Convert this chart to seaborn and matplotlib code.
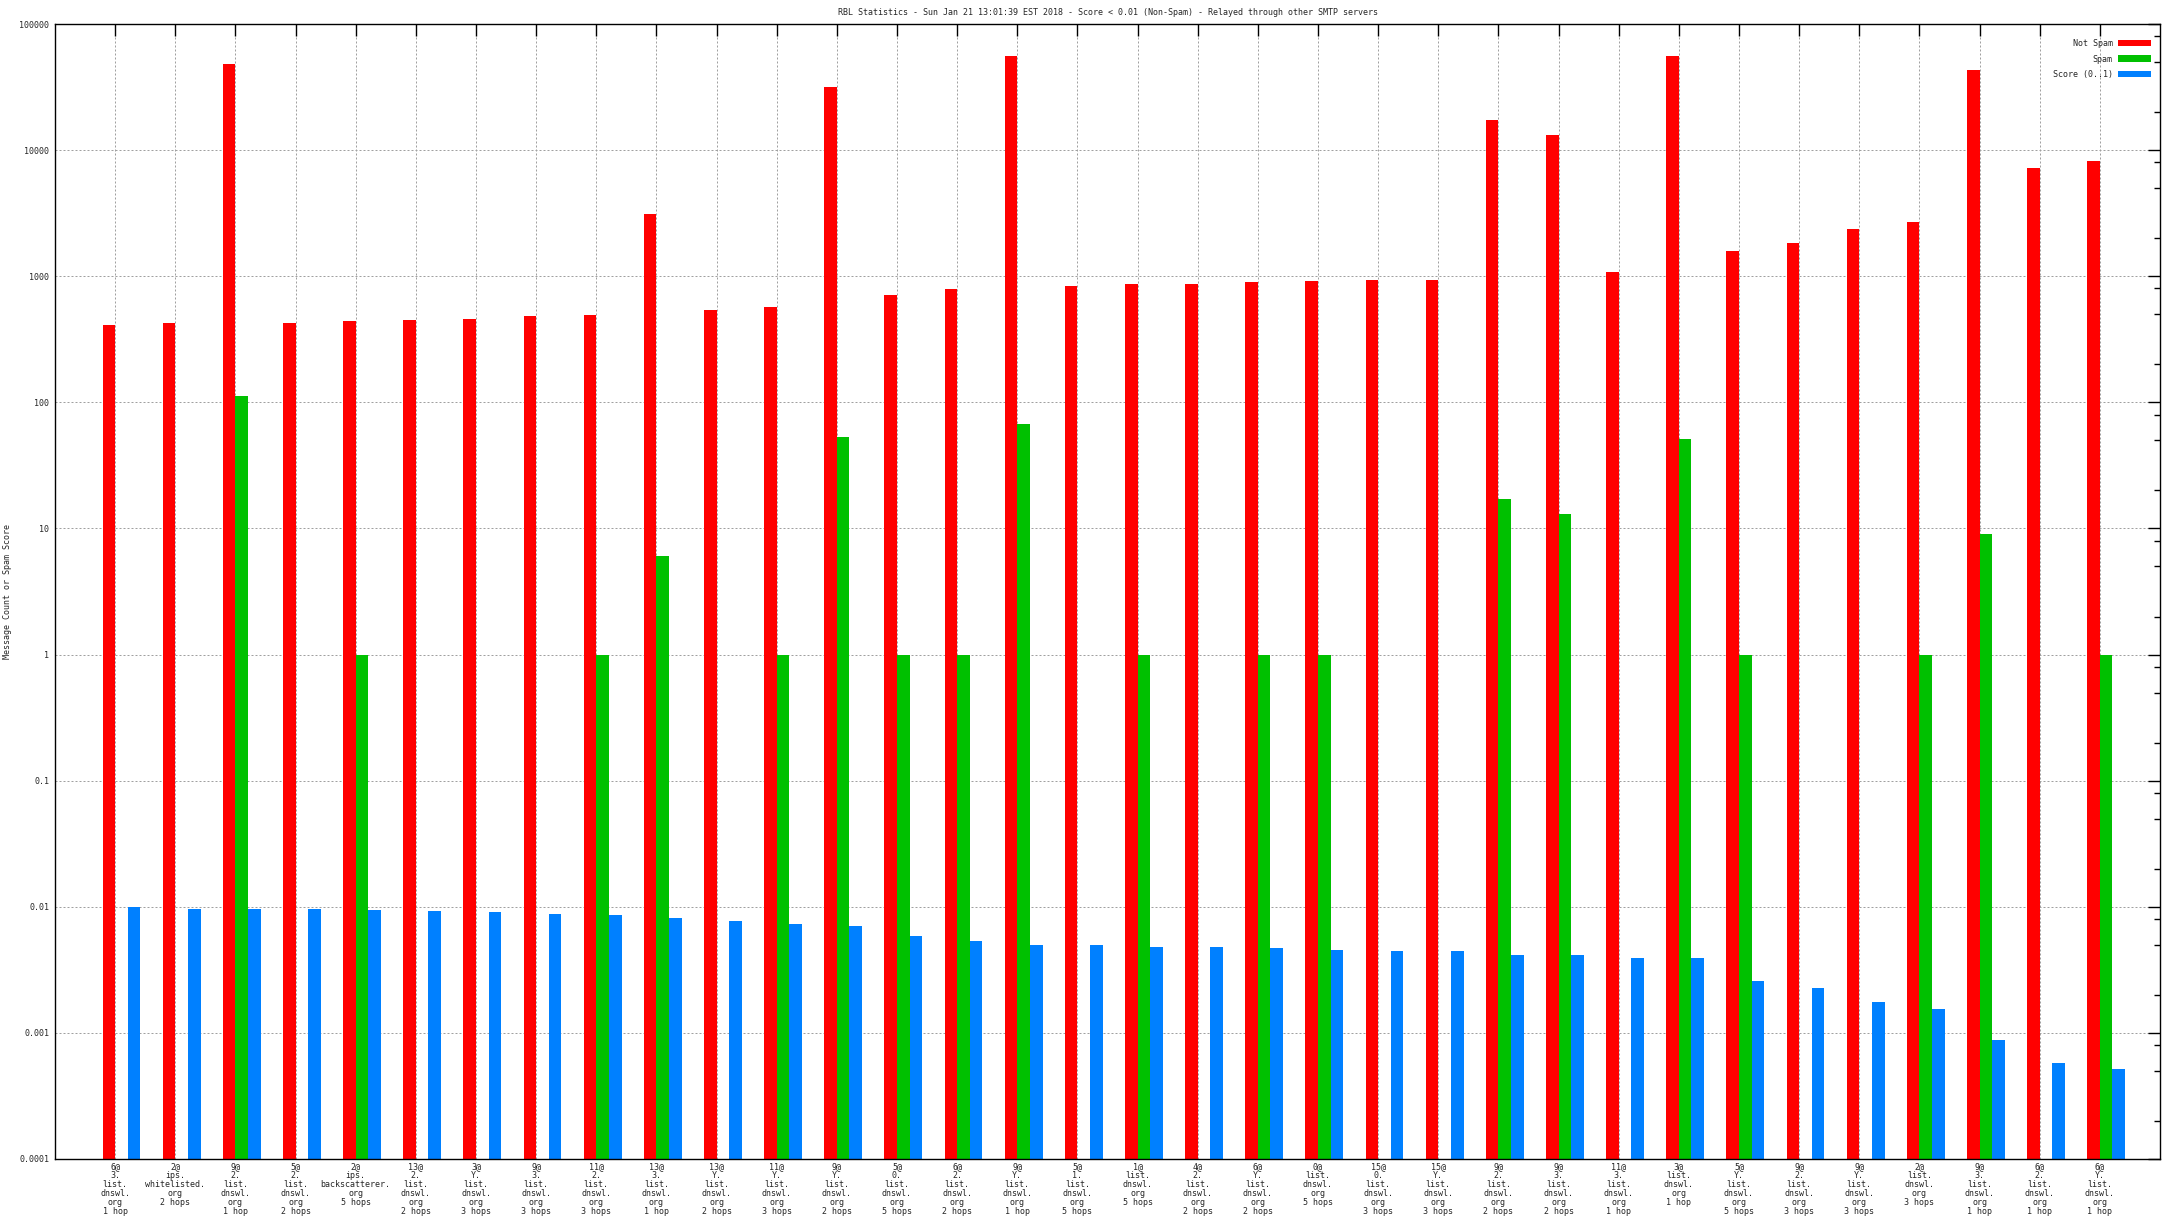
import matplotlib
matplotlib.use("Agg")
import matplotlib.pyplot as plt
from matplotlib.patches import Patch
from matplotlib.ticker import FixedLocator, LogLocator, NullFormatter
import numpy as np
import pandas as pd
import seaborn as sns

TITLE = ("RBL Statistics - Sun Jan 21 13:01:39 EST 2018 - Score < 0.01 (Non-Spam)"
         " - Relayed through other SMTP servers")
Y_LABEL = "Message Count or Spam Score"

# -----------------------
# Data
# -----------------------
hosts = [
    "6@|3.|list.|dnswl.|org|1 hop",
    "2@|ips.|whitelisted.|org|2 hops",
    "9@|2.|list.|dnswl.|org|1 hop",
    "5@|2.|list.|dnswl.|org|2 hops",
    "2@|ips.|backscatterer.|org|5 hops",
    "13@|2.|list.|dnswl.|org|2 hops",
    "3@|Y.|list.|dnswl.|org|3 hops",
    "9@|3.|list.|dnswl.|org|3 hops",
    "11@|2.|list.|dnswl.|org|3 hops",
    "13@|3.|list.|dnswl.|org|1 hop",
    "13@|Y.|list.|dnswl.|org|2 hops",
    "11@|Y.|list.|dnswl.|org|3 hops",
    "9@|Y.|list.|dnswl.|org|2 hops",
    "5@|0.|list.|dnswl.|org|5 hops",
    "6@|2.|list.|dnswl.|org|2 hops",
    "9@|Y.|list.|dnswl.|org|1 hop",
    "5@|1.|list.|dnswl.|org|5 hops",
    "1@|list.|dnswl.|org|5 hops",
    "4@|2.|list.|dnswl.|org|2 hops",
    "6@|Y.|list.|dnswl.|org|2 hops",
    "0@|list.|dnswl.|org|5 hops",
    "15@|0.|list.|dnswl.|org|3 hops",
    "15@|Y.|list.|dnswl.|org|3 hops",
    "9@|2.|list.|dnswl.|org|2 hops",
    "9@|3.|list.|dnswl.|org|2 hops",
    "11@|3.|list.|dnswl.|org|1 hop",
    "3@|list.|dnswl.|org|1 hop",
    "5@|Y.|list.|dnswl.|org|5 hops",
    "9@|2.|list.|dnswl.|org|3 hops",
    "9@|Y.|list.|dnswl.|org|3 hops",
    "2@|list.|dnswl.|org|3 hops",
    "9@|3.|list.|dnswl.|org|1 hop",
    "6@|2.|list.|dnswl.|org|1 hop",
    "6@|Y.|list.|dnswl.|org|1 hop",
]

not_spam = [411, 427, 48200, 427, 443, 452, 459, 486, 497, 3126,
            542, 574, 31760, 713, 794, 56100, 841, 871, 871, 903,
            924, 938, 938, 17420, 13250, 1082, 56100, 1588, 1847, 2377,
            2708, 43300, 7230, 8230]

spam = [0, 0, 113, 0, 1, 0, 0, 0, 1, 6,
        0, 1, 53, 1, 1, 67, 0, 1, 0, 1,
        1, 0, 0, 17, 13, 0, 51, 1, 0, 0,
        1, 9, 0, 1]

score = [0.0100, 0.00964, 0.00964, 0.00964, 0.00947, 0.00930, 0.00913, 0.00869,
         0.00854, 0.00808, 0.00765, 0.00724, 0.00698, 0.00591, 0.00531, 0.00502,
         0.00502, 0.00484, 0.00484, 0.00467, 0.00458, 0.00450, 0.00450, 0.00411,
         0.00411, 0.00389, 0.00389, 0.00260, 0.00229, 0.00177, 0.00156, 0.000885,
         0.000582, 0.000521]

series_names = ["Not Spam", "Spam", "Score (0..1)"]
colors = ["#ff0000", "#00c000", "#0080ff"]

y_ticks = [1e-4, 1e-3, 1e-2, 1e-1, 1, 10, 100, 1000, 10000, 100000]
y_tick_labels = ["0.0001", "0.001", "0.01", "0.1", "1", "10", "100", "1000",
                 "10000", "100000"]

BAR_W = 0.21  # width of one bar, in category units

# -----------------------
# Long table for seaborn
# -----------------------
wide = pd.DataFrame({
    "idx": np.arange(len(hosts)),
    series_names[0]: not_spam,
    series_names[1]: spam,
    series_names[2]: score,
})
df = wide.melt(id_vars="idx", var_name="series", value_name="value")
df = df[df["value"] > 0]
# gnuplot puts the tic between the 1st and 2nd bar of each cluster
df["pos"] = df["idx"] + BAR_W / 2

# -----------------------
# Style
# -----------------------
sns.set_theme(style="white")
plt.rcParams["font.family"] = ["DejaVu Sans Mono", "DejaVu Sans"]
plt.rcParams["font.size"] = 6

fig = plt.figure(figsize=(21.76, 12.24), dpi=100)
ax = fig.add_axes([55 / 2176, 1 - 1159 / 1224, 2105 / 2176, 1135 / 1224])
ax.set_yscale("log")
ax.set_axisbelow(True)

sns.barplot(data=df, x="pos", y="value", hue="series", hue_order=series_names,
            palette=colors, native_scale=True, width=BAR_W * 3, gap=0,
            dodge=True, errorbar=None, saturation=1, linewidth=0,
            legend=False, ax=ax)

ax.set_xlim(-1, len(hosts))
ax.set_ylim(1e-4, 1e5)

ax.xaxis.set_major_locator(FixedLocator(range(len(hosts))))
ax.set_xticklabels([h.replace("|", "\n") for h in hosts], fontsize=6,
                   linespacing=1.0)
ax.yaxis.set_major_locator(FixedLocator(y_ticks))
ax.set_yticklabels(y_tick_labels, fontsize=6)
ax.yaxis.set_minor_locator(LogLocator(base=10, subs=(2, 5, 8), numticks=50))
ax.yaxis.set_minor_formatter(NullFormatter())

ax.tick_params(axis="both", which="both", direction="in", top=True, right=True,
               color="black", width=1.0)
ax.tick_params(axis="both", which="major", length=8.6)
ax.tick_params(axis="y", which="minor", length=4.3)
ax.tick_params(axis="x", which="major", pad=2.5)
ax.tick_params(axis="y", which="major", pad=4)

ax.grid(True, which="major", color="#a0a0a0", linewidth=0.72,
        linestyle=(0, (2, 2)))
for s in ax.spines.values():
    s.set_color("black")
    s.set_linewidth(1.0)

ax.set_xlabel("")
ax.set_ylabel(Y_LABEL, fontsize=6)
ax.yaxis.set_label_coords(-0.0205, 0.5)
ax.set_title(TITLE, fontsize=6, pad=6.5)

handles = [Patch(facecolor=c, edgecolor="none") for c in colors]
ax.legend(handles, series_names, loc="upper right",
          bbox_to_anchor=(1 - 9 / 2105, 1 - 15 / 1135), frameon=False,
          markerfirst=False, handlelength=4.0, handleheight=0.85,
          handletextpad=0.6, labelspacing=0.78, borderpad=0,
          borderaxespad=0, fontsize=6)

fig.savefig("out.png", dpi=100)
